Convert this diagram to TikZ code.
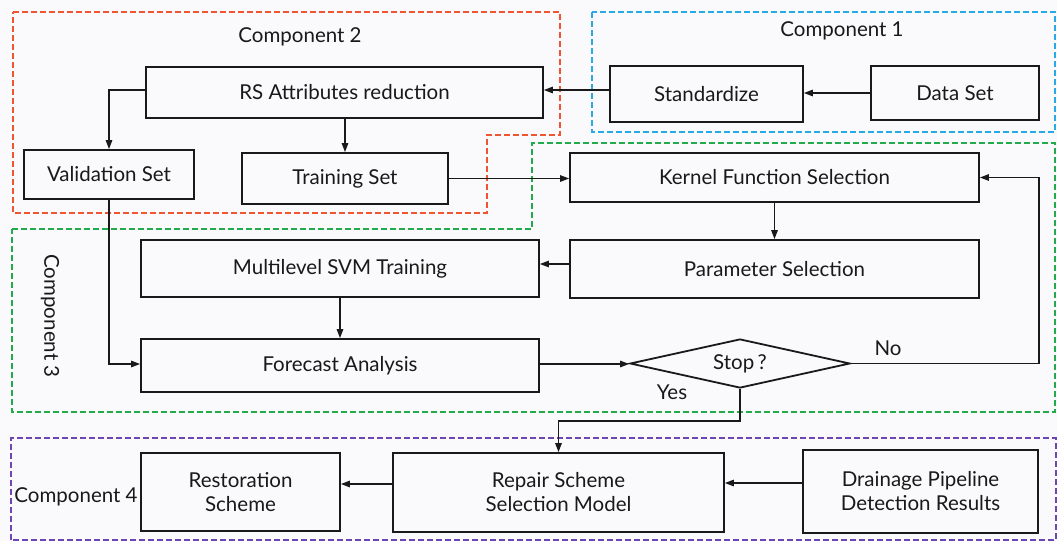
\documentclass[tikz,border=0pt]{standalone}
\usepackage{fontspec}
\setmainfont{Lato}
\usetikzlibrary{arrows.meta,shapes.geometric}
\definecolor{bg}{RGB}{250,250,252}
\definecolor{ink}{RGB}{25,25,25}
\definecolor{cred}{RGB}{240,85,50}
\definecolor{cblue}{RGB}{40,170,230}
\definecolor{cgreen}{RGB}{35,170,75}
\definecolor{cpurple}{RGB}{110,70,180}
\tikzset{
  box/.style={draw=ink, line width=1.8pt, fill=bg, inner sep=2pt, align=center,
    font=\fontsize{20.5}{24}\selectfont, text=ink},
  conn/.style={draw=ink, line width=1.3pt, -{Triangle[length=9pt,width=6.5pt]}},
  frame/.style={line width=1.5pt, dash pattern=on 6pt off 3pt},
  lbl/.style={font=\fontsize{20.5}{24}\selectfont, text=ink, inner sep=0pt},
}
\begin{document}
\begin{tikzpicture}[x=1pt,y=-1pt]
\useasboundingbox (0,0) rectangle (1057,541);
\fill[bg] (0,0) rectangle (1057,541);

% frames
\draw[frame, cred] (13,12) -- (560,12) -- (560,135) -- (487,135) -- (487,213) -- (13,213) -- cycle;
\draw[frame, cblue] (592,12) rectangle (1055,132);
\draw[frame, cgreen] (12,229) -- (532,229) -- (532,143) -- (1055,143) -- (1055,412) -- (12,412) -- cycle;
\draw[frame, cpurple] (11,540) -- (11,438) -- (1056,438) -- (1056,540) -- cycle;

% component labels
\node[lbl] (c2) at (300,37) {Component 2};
\node[lbl] (c1) at (842,31) {Component 1};
\node[lbl, rotate=-90] (c3) at (50,316) {Component 3};
\node[lbl] (c4) at (76,497) {Component 4};

% nodes
\node[box, minimum width=397pt, minimum height=51pt] (rs) at (344.5,92.5) {RS Attributes reduction};
\node[box, minimum width=193pt, minimum height=56pt] (std) at (706.5,94) {Standardize};
\node[box, minimum width=168pt, minimum height=54pt] (data) at (955,93) {Data Set};
\node[box, minimum width=170pt, minimum height=49pt] (val) at (109,174.5) {Validation Set};
\node[box, minimum width=206pt, minimum height=51pt] (train) at (345,178.5) {Training Set};
\node[box, minimum width=409pt, minimum height=49pt] (kernel) at (774.5,177.5) {Kernel Function Selection};
\node[box, minimum width=409pt, minimum height=58pt] (param) at (774.5,269) {Parameter Selection};
\node[box, minimum width=398pt, minimum height=57pt] (svm) at (340,268.5) {Multilevel SVM Training};
\node[box, minimum width=398pt, minimum height=53pt] (fore) at (340,365.5) {Forecast Analysis};
\node[box, diamond, aspect=4.5, inner sep=0pt, minimum width=220pt, minimum height=49pt] (stop) at (740,363.5) {Stop\,?};
\node[box, minimum width=199pt, minimum height=78pt] (rest) at (240.5,492) {Restoration\\Scheme};
\node[box, minimum width=331pt, minimum height=79pt] (repair) at (558.5,492.5) {Repair Scheme\\Selection Model};
\node[box, minimum width=235pt, minimum height=83pt] (drain) at (920.5,491.5) {Drainage Pipeline\\Detection Results};

% helper coordinates
\coordinate (nobend) at (1039,363.5);
\coordinate (yesbend) at (740,421);

% connectors
\draw[conn] (data.west) -- (std.east |- data.west);
\draw[conn] (std.west |- 0,90) -- (rs.east |- 0,90);
\draw[conn] (rs.west |- 0,90) -| (val.north);
\draw[conn] (train.north |- rs.south) -- (train.north);
\draw[conn] (train.east) -- (kernel.west |- train.east);
\draw[conn] (kernel.south) -- (param.north);
\draw[conn] (param.west |- 0,264) -- (svm.east |- 0,264);
\draw[conn] (svm.south) -- (fore.north);
\draw[conn] (val.south) |- (fore.west |- 0,364);
\draw[conn] (fore.east |- 0,364) -- (stop.west |- 0,364);
\draw[conn] (stop.east) -- (nobend) |- (kernel.east);
\draw[conn] (stop.south) -- (yesbend) -| (repair.north);
\draw[conn] (drain.west |- 0,483) -- (repair.east |- 0,483);
\draw[conn] (repair.west |- 0,484) -- (rest.east |- 0,484);

% edge labels
\node[lbl] (no) at (888,348) {No};
\node[lbl] (yes) at (672,392) {Yes};
\end{tikzpicture}
\end{document}
